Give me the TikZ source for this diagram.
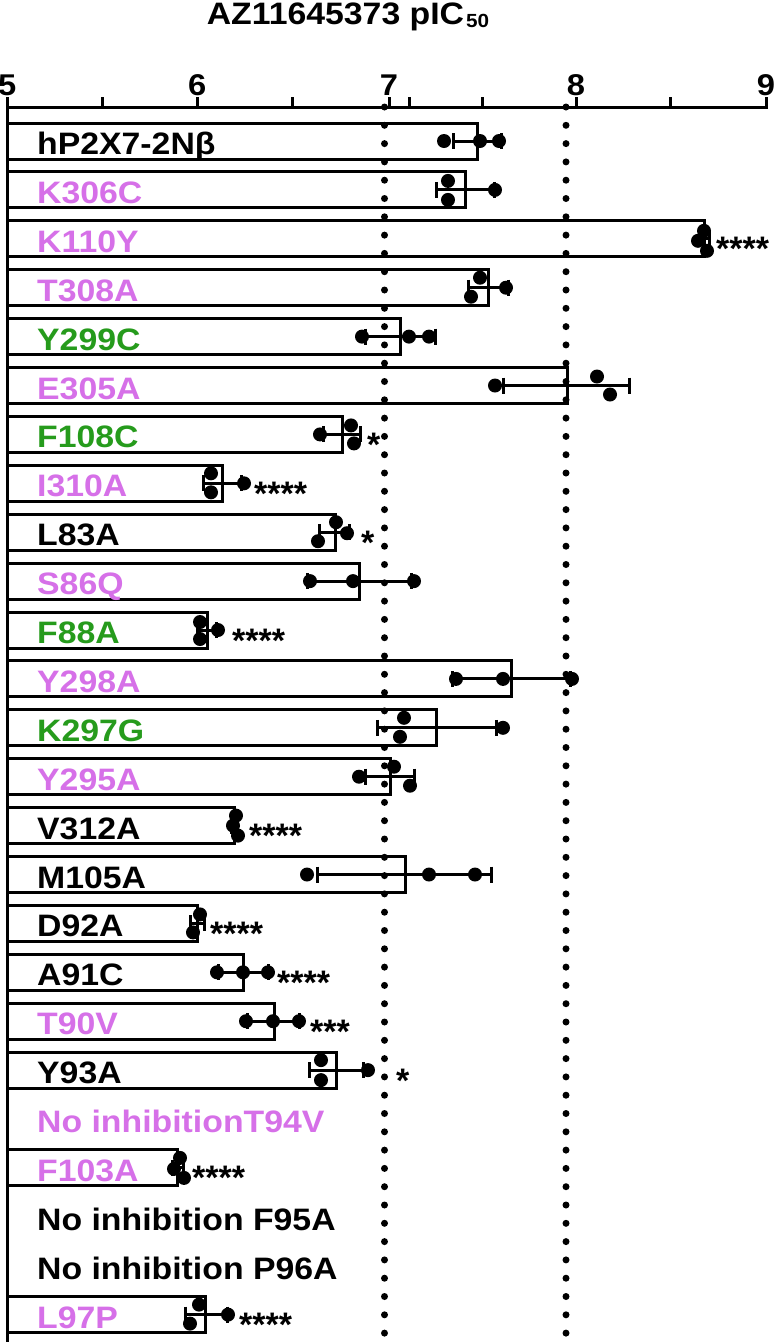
\documentclass[tikz,border=0pt]{standalone}
\usepackage{fontspec}
\setmainfont{Liberation Sans}[FakeStretch=1.09]
\newfontfamily\starfont{Liberation Sans}
\usetikzlibrary{positioning}
\definecolor{mutpink}{RGB}{214,112,232}
\definecolor{mutgreen}{RGB}{38,155,28}
\tikzset{
    barbox/.style = {draw=black, line width=3pt, fill=white},
    axisline/.style = {line width=3pt, black},
    errline/.style = {line width=3pt, black},
    refline/.style = {line width=7pt, line cap=round, dash pattern=on 0pt off 18.3pt, black},
    rowlab/.style = {anchor=base west, inner sep=0pt, font=\bfseries\fontsize{31}{31}\selectfont},
    starlab/.style = {anchor=base west, inner sep=0pt, font=\starfont\bfseries\fontsize{34}{34}\selectfont},
    ticklab/.style = {anchor=base, inner sep=0pt, font=\bfseries\fontsize{30}{30}\selectfont},
    titlelab/.style = {anchor=base, inner sep=0pt, font=\bfseries\fontsize{31}{31}\selectfont}
}
% row / label / colour / mean / mean-sd / mean+sd (pixels)
\def\barrows{0/hP2X7-2Nβ/black/477/453/501,
    1/K306C/mutpink/465/436/494,
    2/K110Y/mutpink/704/699/709,
    3/T308A/mutpink/488/468/508,
    4/Y299C/mutgreen/400/365/435,
    5/E305A/mutpink/567/503/629,
    6/F108C/mutgreen/342/323/360,
    7/I310A/mutpink/222/203/241,
    8/L83A/black/335/319/349,
    9/S86Q/mutpink/359/307/411,
    10/F88A/mutgreen/207/197/216,
    11/Y298A/mutpink/511/452/570,
    12/K297G/mutgreen/436/377/496,
    13/Y295A/mutpink/390/365/414,
    14/V312A/black/234/231/237,
    15/M105A/black/405/317/491,
    16/D92A/black/197/190/204,
    17/A91C/black/243/218/268,
    18/T90V/mutpink/274/247/299,
    19/Y93A/black/336/309/363,
    21/F103A/mutpink/177/172/183,
    24/L97P/mutpink/205/185/227}

\begin{document}
\begin{tikzpicture}[x=1pt,y=-1pt]
\useasboundingbox (0,0) rectangle (777,1342);

% title and axis
\node[titlelab] (title) at (348,24) {AZ11645373 pIC\kern2pt\raisebox{-3pt}{\fontsize{19}{19}\selectfont 50}};
\foreach \tx in {7.3,102.6,197.3,292,389,409,482,576,670.7,766}
    \draw[axisline] (\tx,107) -- (\tx,97);
\foreach \tx/\tv in {7.3/5,197.3/6,389/7,576/8,766/9}
    \node[ticklab] (tick\tv) at (\tx,95) {\tv};

% bars and row labels
\foreach \i/\lab/\col/\be/\el/\er in \barrows {
    \pgfmathsetmacro\yc{141+48.9*\i}
    \draw[barbox] (7.3,\yc-18) rectangle (\be,\yc+18);
    \node[rowlab, text=\col] (lab\i) at (37,\yc+13.5) {\lab};
}
\node[rowlab, text=mutpink] (lab20) at (37,1132.5) {No inhibitionT94V};
\node[rowlab] (lab22) at (37,1230.3) {No inhibition F95A};
\node[rowlab] (lab23) at (37,1279.2) {No inhibition P96A};

\draw[axisline] (768,107) -- (7.3,107) -- (7.3,1342);

% reference lines
\draw[refline] (384.5,107) -- (384.5,1342);
\draw[refline] (566,107) -- (566,1342);

% error bars
\foreach \i/\lab/\col/\be/\el/\er in \barrows {
    \pgfmathsetmacro\yc{141+48.9*\i}
    \draw[errline] (\el,\yc) -- (\er,\yc);
    \draw[errline] (\el,\yc-8) -- (\el,\yc+8);
    \draw[errline] (\er,\yc-8) -- (\er,\yc+8);
}

% single points
\foreach \i/\px/\dy in {0/444/0, 0/480/0, 0/499/0,
    1/448/-9, 1/448/10, 1/495/0,
    2/704/-8, 2/698/2, 2/707/12,
    3/480/-10, 3/471/9, 3/506/0,
    4/362/0, 4/409/0, 4/429/0,
    5/495/0, 5/597/-9, 5/610/9,
    6/320/0, 6/351/-9, 6/354/9,
    7/211/-10, 7/211/9, 7/244/0,
    8/336/-10, 8/347/1, 8/318/9,
    9/310/0, 9/353/0, 9/414/0,
    10/200/-8, 10/200/9, 10/218/0,
    11/456/0, 11/503/0, 11/572/0,
    12/404/-10, 12/400/9, 12/503/0,
    13/394/-10, 13/359/0, 13/410/9,
    14/236/-10, 14/233/0, 14/238/10,
    15/307/0, 15/429/0, 15/475/0,
    16/200/-9, 16/193/9,
    17/217/0, 17/243/0, 17/268/0,
    18/246/0, 18/273/0, 18/299/0,
    19/321/-10, 19/321/10, 19/368/0,
    21/180/-10, 21/174/1, 21/184/10,
    24/199/-10, 24/190/9, 24/228/0}
    \fill ({\px},{141+48.9*\i+\dy}) circle[radius=7pt];

% significance
\foreach \i/\sx/\st in {2/716/****, 6/367/*, 7/254/****, 8/361/*,
    10/232/****, 14/249/****, 16/210/****, 17/277/****, 18/310/***,
    19/396/*, 21/192/****, 24/239/****}
    \node[starlab] (star\i) at (\sx,{141+48.9*\i+22}) {\st};

\end{tikzpicture}
\end{document}
